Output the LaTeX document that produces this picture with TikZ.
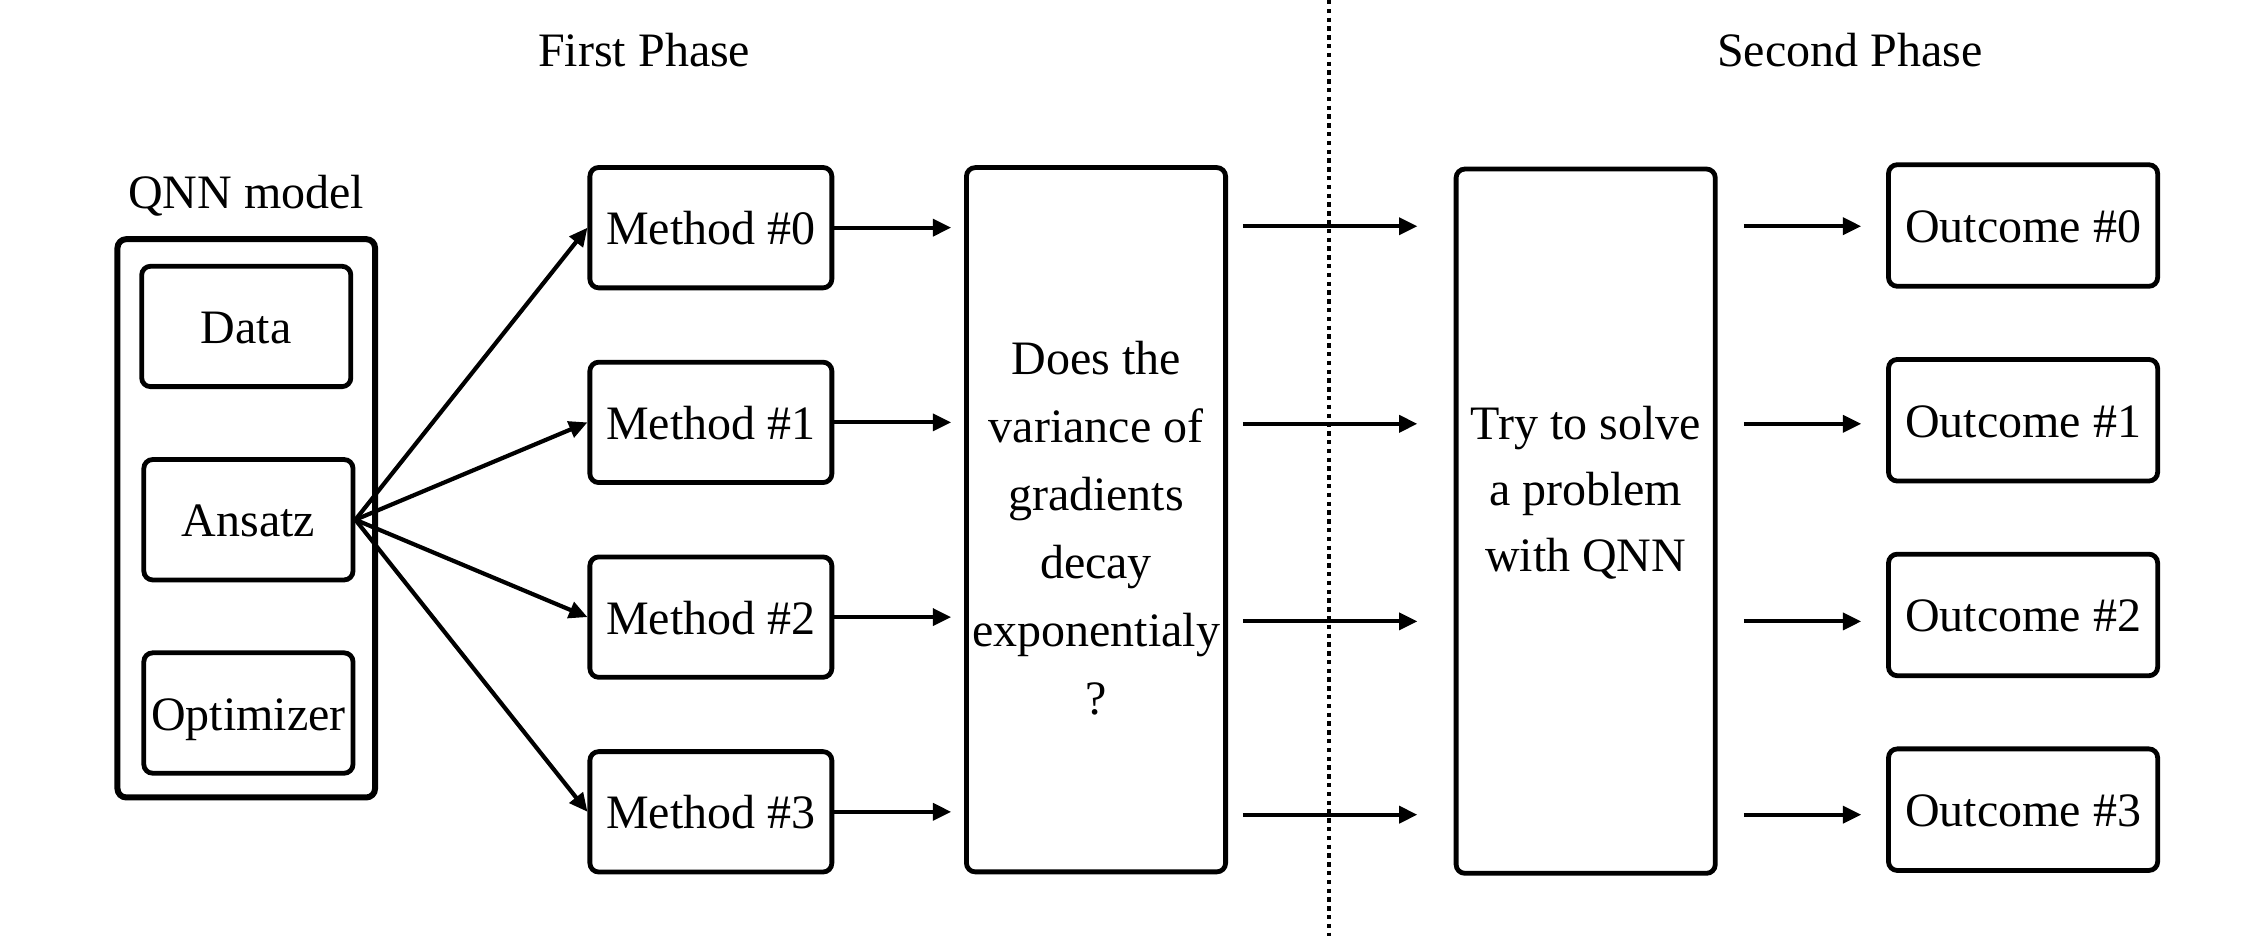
\documentclass[tikz,border=0pt]{standalone}
\usepackage{fontspec}
\setmainfont{Liberation Serif}
\usetikzlibrary{arrows.meta}
\begin{document}
\begin{tikzpicture}[x=0.358pt,y=-0.358pt,
  every node/.style={font=\fontsize{12}{16.5}\selectfont},
  box/.style={draw,line width=1.2pt,rounded corners=2.2pt,inner sep=0pt,align=center},
  onetext/.style={text height=0.85em,text depth=0pt},
  inbox/.style={box,onetext,minimum width=52.3pt,minimum height=30.1pt},
  methodbox/.style={box,onetext,minimum width=60.5pt,minimum height=30.1pt},
  outbox/.style={box,onetext,minimum width=67.3pt,minimum height=30.4pt},
  bigbox/.style={box,minimum width=64.8pt,minimum height=176.1pt},
  arr/.style={line width=1.05pt,-{Triangle[length=4.6pt,width=4.2pt]}},
  lbl/.style={inner sep=0pt,align=center}]
\useasboundingbox (0,0) rectangle (1568,654);
% phase labels and divider
\node[lbl] (fp) at (450,35) {First Phase};
\node[lbl] (sp) at (1292,35) {Second Phase};
\coordinate (dtop) at (928,0);
\coordinate (dbot) at (928,654);
\draw[line width=1pt,dash pattern=on 1.1pt off 1.1pt] (dtop) -- (dbot);
% QNN model
\node[lbl,onetext] (qlbl) at (172,134) {QNN model};
\node[box,line width=1.5pt,minimum width=64.4pt,minimum height=139.6pt] (qnn) at (172,362) {};
\node[inbox] (data) at (172,228) {Data};
\node[inbox] (ans) at (173.5,363) {Ansatz};
\node[inbox] (opt) at (173.5,498) {Optimizer};
% methods
\foreach \i/\y in {0/159,1/295,2/431,3/567}{
  \node[methodbox] (m\i) at (496.5,\y) {Method \#\i};
}
% big boxes
\node[bigbox] (b1) at (765.5,363) {};
\node[lbl,font=\fontsize{12}{17}\selectfont] (t1) at (765.5,369) {Does the\\variance of\\gradients\\decay\\exponentialy\\?};
\node[bigbox] (b2) at (1107.5,364) {};
\node[lbl] (t2) at (1107.5,344) {Try to solve\\a problem\\with QNN};
% outcomes
\foreach \i/\y in {0/157.5,1/293.5,2/429.5,3/565.5}{
  \node[outbox] (o\i) at (1413,\y) {Outcome \#\i};
}
% arrows from ansatz
\foreach \i in {0,1,2,3}{
  \draw[arr] (ans.east) -- (m\i.west);
  \draw[arr,shorten >=3.2pt] (m\i.east) -- (m\i.east -| b1.west);
}
% arrows between phases
\foreach \i/\y in {0/158,1/296,2/434,3/569}{
  \coordinate (s\i) at (868,\y);
  \coordinate (e\i) at (990,\y);
  \draw[arr] (s\i) -- (e\i);
  \coordinate (f\i) at (1218,\y);
  \coordinate (g\i) at (1300,\y);
  \draw[arr] (f\i) -- (g\i);
}
\end{tikzpicture}
\end{document}
